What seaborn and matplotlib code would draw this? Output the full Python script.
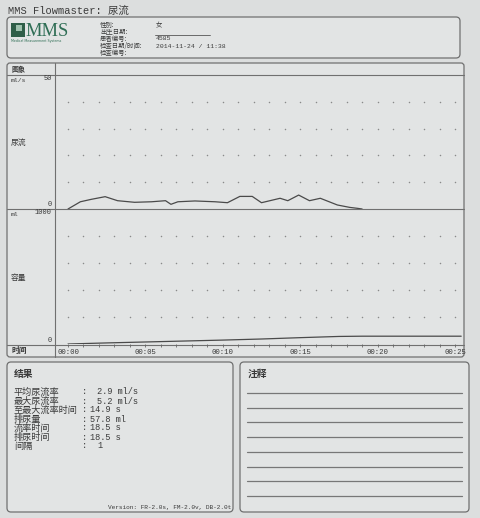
import numpy as np
import pandas as pd
import seaborn as sns
import matplotlib
matplotlib.use("Agg")
import matplotlib.pyplot as plt
from matplotlib.patches import FancyBboxPatch, Rectangle

# flow curve (s, ml/s)
flow_t = [0, 0.8, 1.5, 2.4, 3.2, 4.3, 5.4, 6.3, 6.65, 7.1, 8.2, 9.5, 10.3, 11.1,
          11.9, 12.5, 13.7, 14.2, 14.9, 15.6, 16.3, 17.4, 18.2, 18.7, 19.0]
flow_v = [0, 2.7, 3.6, 4.6, 3.1, 2.5, 2.7, 3.1, 1.75, 2.7, 3.0, 2.7, 2.35, 4.7,
          4.7, 2.35, 4.0, 3.1, 5.2, 3.1, 4.0, 1.5, 0.6, 0.25, 0]
# voided volume (s, ml)
vol_t = [0, 2.5, 5, 7.5, 10, 12.5, 15, 17.5, 19, 25.4]
vol_v = [0, 8, 15, 22, 29, 37, 47, 56, 57.8, 57.8]

time_ticks = [0, 5, 10, 15, 20, 25]
time_labels = ["00:00", "00:05", "00:10", "00:15", "00:20", "00:25"]
flow_grid = [10, 20, 30, 40]
vol_grid = [200, 400, 600, 800]

patient_labels = ["性别:", "出生日期:", "患者编号:", "检查日期/时间:", "检查编号:"]
patient_values = ["女", "", "4585", "2014-11-24 / 11:38", ""]

result_labels = ["平均尿流率", "最大尿流率", "至最大流率时间", "排尿量", "流率时间", "排尿时间", "间隔"]
result_values = ["2.9 ml/s", "5.2 ml/s", "14.9 s", "57.8 ml", "18.5 s", "18.5 s", "1"]

sns.set_style("white")
MIX = ["Liberation Mono", "Noto Sans CJK SC"]
CJK = ["Noto Sans CJK SC", "DejaVu Sans"]
plt.rcParams["font.family"] = MIX

PAPER = "#dcdede"
INK = "#3a3a3a"
EDGE = "#707070"
W, H = 480, 518

fig = plt.figure(figsize=(4.8, 5.18), dpi=100, facecolor=PAPER)
bg = fig.add_axes([0, 0, 1, 1])
bg.set_xlim(0, W)
bg.set_ylim(H, 0)
bg.axis("off")


def box(x0, y0, x1, y1, r=4):
    bg.add_patch(FancyBboxPatch((x0, y0), x1 - x0, y1 - y0,
                                boxstyle=f"round,pad=0,rounding_size={r}",
                                fc="#e2e4e4", ec=EDGE, lw=0.9))


def hline(y, x0, x1, c=EDGE, lw=0.8):
    bg.plot([x0, x1], [y, y], color=c, lw=lw)


# title
bg.text(8, 11, "MMS Flowmaster: 尿流", fontsize=7.5, va="center", color=INK, family=MIX)

# header box with logo and patient info
box(7, 17, 460, 58)
bg.add_patch(Rectangle((11, 23), 14, 14, fc="#2f5e48", ec="none"))
bg.add_patch(Rectangle((16, 25), 6, 6, fc="#9fc2ae", ec="none"))
bg.text(25, 31, "MMS", fontsize=13.3, family="Liberation Serif", color="#2f6e55", va="center")
bg.text(11, 41, "Medical Measurement Systems", fontsize=2.3, color="#2f6e55", va="center",
        family="DejaVu Sans")
for i, (lab, val) in enumerate(zip(patient_labels, patient_values)):
    y = 25 + i * 7
    bg.text(100, y, lab, fontsize=4.6, va="center", color=INK, family=CJK)
    if val:
        bg.text(156, y, val, fontsize=4.6, va="center", color=INK, family=MIX)
hline(34.5, 155, 210, c="#555", lw=0.6)

# chart frame
box(7, 63, 464, 357, r=3)
bg.plot([55, 55], [63, 357], color=EDGE, lw=0.8)
for y in (75, 209, 345):
    hline(y, 7, 464)
bg.text(11, 69, "图象", fontsize=5, va="center", family=CJK, color=INK, weight="bold")
bg.text(11, 80, "ml/s", fontsize=4.6, va="center", color=INK)
bg.text(52, 79, "50", fontsize=5, va="center", ha="right", color=INK)
bg.text(11, 143, "尿流", fontsize=5.6, va="center", family=CJK, color=INK)
bg.text(52, 205, "0", fontsize=5, va="center", ha="right", color=INK)
bg.text(11, 214, "ml", fontsize=4.6, va="center", color=INK)
bg.text(52, 213, "1000", fontsize=5, va="center", ha="right", color=INK)
bg.text(11, 278, "容量", fontsize=5.6, va="center", family=CJK, color=INK)
bg.text(52, 341, "0", fontsize=5, va="center", ha="right", color=INK)
bg.text(11, 351, "时间", fontsize=5.6, va="center", family=CJK, color=INK, weight="bold")

# data axes, placed so 00:00 sits at x=68 px and 00:25 at x=455 px
px_s = (455 - 68) / 25
xlo, xhi = (55 - 68) / px_s, (464 - 68) / px_s


def frac(x0, y0, x1, y1):
    return [x0 / W, 1 - y1 / H, (x1 - x0) / W, (y1 - y0) / H]


ax_f = fig.add_axes(frac(55, 75, 464, 209))
ax_v = fig.add_axes(frac(55, 209, 464, 344))
for ax in (ax_f, ax_v):
    ax.set_facecolor("none")
    for s in ax.spines.values():
        s.set_visible(False)
    ax.set_xlim(xlo, xhi)

secs = np.arange(0, 26)
gx_f, gy_f = np.meshgrid(secs, flow_grid)
gx_v, gy_v = np.meshgrid(secs, vol_grid)
sns.scatterplot(x=gx_f.ravel(), y=gy_f.ravel(), ax=ax_f, s=1.2, color="#8a8a8a", linewidth=0)
sns.scatterplot(x=gx_v.ravel(), y=gy_v.ravel(), ax=ax_v, s=1.2, color="#8a8a8a", linewidth=0)

flow_df = pd.DataFrame({"t": flow_t, "flow": flow_v})
vol_df = pd.DataFrame({"t": vol_t, "vol": vol_v})
sns.lineplot(data=flow_df, x="t", y="flow", ax=ax_f, color="#4a4a4a", lw=0.9)
sns.lineplot(data=vol_df, x="t", y="vol", ax=ax_v, color="#4a4a4a", lw=0.9)

ax_f.set_ylim(0, 50)
ax_v.set_ylim(0, 1000)
ax_f.set_xticks([])
ax_f.set_yticks([])
ax_v.set_yticks([])
for ax in (ax_f, ax_v):
    ax.set_xlabel("")
    ax.set_ylabel("")
ax_v.set_xticks(time_ticks)
ax_v.set_xticklabels(time_labels, fontsize=5.2, color=INK)
ax_v.set_xticks(secs, minor=True)
ax_v.tick_params(axis="x", which="both", direction="out", length=2.2, width=0.6,
                 color="#666", pad=1.5, bottom=True)

# results box
box(7, 362, 233, 512)
bg.text(14, 374, "结果", fontsize=7, va="center", family=CJK, weight="bold", color=INK)
for i, (lab, val) in enumerate(zip(result_labels, result_values)):
    y = 392 + i * 9
    bg.text(14, y, lab, fontsize=6.6, va="center", family=CJK, color=INK)
    bg.text(82, y, ":", fontsize=6.2, va="center", color=INK)
    # single-digit values are padded like the printout
    indent = 7 if len(val.split(" ")[0]) < 4 else 0
    bg.text(90 + indent, y, val, fontsize=6.2, va="center", color=INK)
bg.text(231, 507, "Version: FR-2.0s, FM-2.0v, DB-2.0t", fontsize=4.4, ha="right",
        va="center", color=INK)

# notes box
box(240, 362, 469, 512)
bg.text(248, 374, "注释", fontsize=7, va="center", family=CJK, weight="bold", color=INK)
for y in [393, 407.5, 422, 437, 452, 466.5, 481, 496]:
    hline(y, 247, 462, c="#777", lw=0.9)

fig.savefig("out.png", dpi=100, facecolor=PAPER)
